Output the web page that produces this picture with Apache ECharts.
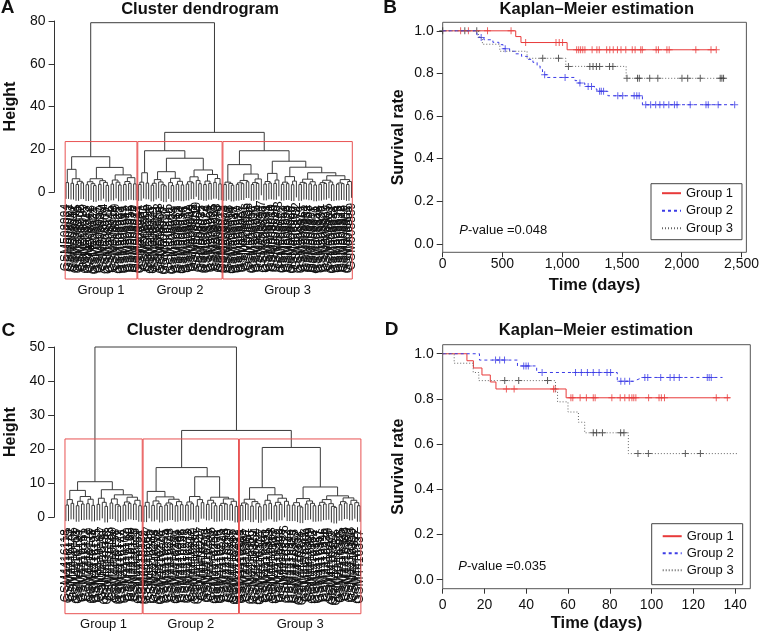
<!DOCTYPE html>
<html>
<head>
<meta charset="utf-8">
<script src="https://cdn.jsdelivr.net/npm/echarts@6/dist/echarts.min.js"></script>
<style>
  html, body { margin: 0; background: #fff; }
  #main { width: 762px; height: 636px; }
</style>
</head>
<body>
<div id="main"></div>
<script>
// ---- dendrogram data: [height, left, right], leaves are sample id suffixes
var groupNames = ['Group 1', 'Group 2', 'Group 3'];

var treeA = [79.2,
  [16.5,
    [10.6, [4.4, 994, 961], [6.2, [4.1, 937, 952], [5.0, [3.5, 948, 976], [4.3, 903, 989]]]],
    [11.5,
      [6.2, [4.8, [3.4, 915, 942], [3.9, 968, [3.0, 921, 904]]], [5.3, [3.6, 957, 930], [4.5, 984, [3.1, 909, 972]]]],
      [8.0, [5.6, [3.7, 946, 918], [4.6, 999, [3.3, 925, 963]]], [6.7, [4.9, [3.5, 939, 981], [4.0, 912, 955]], [3.8, 970, 927]]]]],
  [27.9,
    [19.3,
      [9.0, [4.6, [3.5, 934, 987], 911], [4.2, 966, 950]],
      [15.8,
        [9.5, [5.8, [4.1, [3.2, 923, 979], 941], [4.7, 958, [3.4, 906, [2.9, 990, 917]]]], [6.4, [4.4, 945, [3.0, 962, 928]], [5.0, [3.6, 983, 913], [3.3, 954, 936]]]],
        [10.3, [7.1, [4.8, [3.7, 971, 902], [4.3, 949, 988]], [5.4, 919, [3.9, 964, 935]]], [8.2, [5.1, [3.5, 977, 924], [4.0, 959, 908]], [6.3, [4.5, 985, 943], [3.8, 916, 973]]]]]],
    [19.3,
      [12.8,
        [4.6, [3.5, 931, 996], [4.0, 953, [3.2, 914, 980]]],
        [8.4, [5.4, [4.3, [3.6, 947, 920], [3.9, 967, 901]], [4.8, 986, 938]], [6.1, [4.4, [3.5, 960, 926], [4.0, 975, 944]], 907]]],
      [14.4,
        [8.7, [4.9, [3.7, 956, 933], [4.2, 991, 910]], [5.6, [4.0, 969, 940], 978]],
        [11.6,
          [7.2, [4.6, [3.6, 922, 951], [3.9, 993, 929]], [5.1, [3.4, 965, 905], 982]],
          [9.0,
            [6.0, [4.5, [3.5, 874, 819], [4.1, 861, 832]], [4.8, [3.8, 858, 897], [3.3, 811, 850]]],
            [7.6, [5.5, [4.4, [3.6, 843, 886], [4.0, 827, 869]], [4.7, 815, [3.4, 892, 838]]], [5.8, [4.2, [3.7, 854, 823], [3.9, 878, 846]], [4.9, [3.5, 801, 865], 889]]]]]]]]];

var treeC = [50.0,
  [10.45,
    [7.9, [5.2, [3.6, 118, 175], [4.1, 142, 106]], [6.1, [4.7, [3.4, 163, 129], [3.9, 187, 151]], [5.3, [4.0, 112, 170], [3.5, 138, 194]]]],
    [8.1, [5.6, [3.8, 125, 181], [4.4, 147, [3.2, 109, 166]]], [6.6, [5.4, [4.2, 133, 190], [3.7, 158, [3.3, 121, 177]]], [5.9, [4.5, [3.6, 144, 102], [4.1, 169, 136]], [5.0, [3.9, 185, 115], [3.4, 152, 127]]]]]],
  [25.5,
    [14.6,
      [7.6, [4.4, [3.3, 219, 264], 237], [6.0, [4.8, [3.5, 282, 208], [4.0, 251, [3.2, 273, 226]]], [5.3, [4.2, [3.6, 295, 214], [3.9, 248, 267]], [4.6, [3.4, 231, 289], [3.7, 203, 256]]]]],
      [11.9, [6.1, [4.5, [3.6, 241, 278], [4.0, 212, 260]], [5.2, [3.3, 285, 229], [4.3, 247, 271]]], [5.9, [5.0, [3.8, 216, 293], [4.2, 235, [3.4, 258, 204]]], [5.4, [4.1, [3.5, 276, 222], [3.9, 243, 299]], [4.7, [3.7, 210, 265], [3.2, 287, 233]]]]]],
    [20.5,
      [8.7, [5.3, [4.2, [3.5, 318, 362], [3.9, 341, 307]], [4.6, [3.3, 386, 329], [4.0, 354, [3.1, 312, 375]]]], [6.6, [5.0, [3.7, 347, 393], [4.1, 321, 368]], [5.6, [4.4, [3.4, 335, 381], [3.8, 303, 359]], [4.7, 326, [3.6, 372, 344]]]]],
      [8.9, [5.5, [4.3, [3.6, 389, 315], [3.3, 352, [3.0, 378, 331]]], [4.8, [3.9, 306, 364], [4.1, 339, [3.4, 383, 324]]]], [6.3, [5.2, [4.4, [3.5, 357, 311], [3.9, 396, 334]], [4.0, 370, [3.2, 349, [2.9, 317, 388]]]], [5.7, [4.6, [3.7, 328, 365], [4.2, 343, 309]], [5.0, [3.8, 380, 356], [4.3, 322, [3.4, 391, 337]]]]]]]]];

var groupSizesA = [29, 34, 52];
var groupSizesC = [30, 37, 47];
var prefixA = 'GSM508';
var prefixC = 'GSM4416';
var boxA = [-40.7, 23.6];   // bottom, top
var boxC = [-28.3, 23.0];
var ticksA = [0, 20, 40, 60, 80];
var ticksC = [0, 10, 20, 30, 40, 50];

// ---- Kaplan-Meier data: steps [time, survival after], censor times, last time
var b1Steps = [[611, 0.973], [655, 0.945], [1041, 0.911]];
var b1Cens = [150, 215, 375, 572, 694, 948, 975, 1003, 1121, 1138, 1154, 1172, 1190, 1250, 1290, 1310, 1372, 1398, 1427,
  1462, 1492, 1532, 1586, 1610, 1657, 1670, 1786, 1805, 1876, 1895, 2118, 2245, 2289];
var b1End = 2289;
var b2Steps = [[286, 0.981], [305, 0.969], [345, 0.958], [420, 0.946], [470, 0.935], [505, 0.916], [560, 0.904],
  [610, 0.892], [660, 0.880], [710, 0.866], [755, 0.852], [790, 0.835], [815, 0.818], [835, 0.806], [850, 0.794],
  [873, 0.781], [1107, 0.766], [1130, 0.755], [1189, 0.739], [1270, 0.727], [1290, 0.716], [1382, 0.695], [1671, 0.653]];
var b2Cens = [322, 523, 853, 1024, 1148, 1217, 1245, 1313, 1327, 1346, 1465, 1506, 1602, 1624, 1644, 1699, 1740, 1782,
  1817, 1850, 1892, 1939, 1961, 2071, 2203, 2222, 2305, 2443];
var b2End = 2443;
var b3Steps = [[300, 0.968], [332, 0.937], [478, 0.904], [706, 0.871], [1030, 0.833], [1535, 0.777]];
var b3Cens = [0, 185, 285, 837, 969, 1052, 1231, 1258, 1286, 1313, 1396, 1424, 1542, 1630, 1645, 1732, 1800, 2002, 2050,
  2155, 2322, 2336, 2350];
var b3End = 2355;

var d1Steps = [[11.6, 0.969], [14.7, 0.937], [18.8, 0.906], [22.8, 0.875], [25.5, 0.844], [59.1, 0.805]];
var d1Cens = [30.5, 34.2, 53.1, 53.9, 61.4, 62.3, 65.8, 68.8, 72.1, 73.0, 81.0, 85.0, 87.2, 89.3, 90.6, 91.5, 92.5,
  98.6, 103.6, 104.7, 106.2, 131.0, 136.3];
var d1End = 137.5;
var d2Steps = [[17.6, 0.972], [35.8, 0.946], [45.0, 0.917], [83.6, 0.878], [91.3, 0.878], [95.8, 0.895, 'ramp']];
var d2Cens = [25.3, 27.3, 29.6, 38.8, 39.9, 41.0, 47.6, 63.6, 66.4, 69.3, 72.1, 74.9, 78.7, 80.4, 85.3, 87.2, 89.5,
  96.8, 98.2, 104.4, 108.9, 110.8, 113.3, 126.7, 127.6, 128.6];
var d2End = 134;
var d3Steps = [[5.5, 0.958], [14.6, 0.917], [17.3, 0.881], [54.0, 0.834], [55.0, 0.787], [60.0, 0.742], [65.0, 0.697],
  [68.0, 0.650], [88.9, 0.558]];
var d3Cens = [29.7, 36.4, 50.2, 72.1, 73.7, 76.5, 85.2, 86.8, 93.5, 98.5, 116.2, 123.4];
var d3End = 141;

var ticksBx = [0, 500, 1000, 1500, 2000, 2500];
var ticksDx = [0, 20, 40, 60, 80, 100, 120, 140];
var ticksSurv = [0, 0.2, 0.4, 0.6, 0.8, 1.0];

var FONT = '"Liberation Sans", Arial, Helvetica, sans-serif';
var red = '#e83a3a', blue = '#3c3ce6', grey = '#666';
var plus = 'path://M3,0h1v7h-1zM0,3h7v1h-7z';

// build dendrogram segments like plot.hclust (node x = mean of children x)
function layoutTree(tree) {
  var hs = [];
  (function collect(n) { if (Array.isArray(n)) { hs.push(n[0]); collect(n[1]); collect(n[2]); } })(tree);
  var hang = 0.1 * (Math.max.apply(null, hs) - Math.min.apply(null, hs));
  var segs = [], leaves = [], pos = 0;
  function walk(node) {
    if (!Array.isArray(node)) { pos++; return { x: pos, h: null, id: node }; }
    var h = node[0], a = walk(node[1]), b = walk(node[2]);
    [a, b].forEach(function (c) {
      var bottom = c.h === null ? h - hang : c.h;
      if (c.h === null) leaves.push([c.x, bottom, c.id]);
      segs.push([c.x, bottom, c.x, h]);
    });
    segs.push([a.x, h, b.x, h]);
    return { x: (a.x + b.x) / 2, h: h };
  }
  walk(tree);
  return { segs: segs, leaves: leaves, n: pos };
}

function dendroSeries(gi, lay, sizes, prefix, box, labelGap) {
  var boxes = [], m = 0;
  sizes.forEach(function (n) { boxes.push([m + 0.66, m + n + 0.33, box[0], box[1]]); m += n; });
  return [{
    type: 'custom', xAxisIndex: gi, yAxisIndex: gi, clip: false, silent: true,
    data: lay.segs,
    renderItem: function (params, api) {
      var p1 = api.coord([api.value(0), api.value(1)]);
      var p2 = api.coord([api.value(2), api.value(3)]);
      return { type: 'line', shape: { x1: p1[0], y1: p1[1], x2: p2[0], y2: p2[1] },
        style: { stroke: '#3a3a3a', lineWidth: 1 } };
    }
  }, {
    type: 'custom', xAxisIndex: gi, yAxisIndex: gi, clip: false, silent: true,
    data: lay.leaves.map(function (l) { return [l[0], l[1]]; }),
    renderItem: function (params, api) {
      var p = api.coord([api.value(0), api.value(1)]);
      return { type: 'text', x: p[0], y: p[1] + labelGap, rotation: Math.PI / 2,
        style: { text: prefix + lay.leaves[params.dataIndex][2], fill: '#111', fontSize: 12, fontFamily: FONT,
          align: 'right', verticalAlign: 'middle' } };
    }
  }, {
    type: 'custom', xAxisIndex: gi, yAxisIndex: gi, clip: false, silent: true,
    data: boxes,
    renderItem: function (params, api) {
      var p1 = api.coord([api.value(0), api.value(3)]);
      var p2 = api.coord([api.value(1), api.value(2)]);
      return { type: 'group', children: [
        { type: 'rect', shape: { x: p1[0], y: p1[1], width: p2[0] - p1[0], height: p2[1] - p1[1] },
          style: { fill: 'none', stroke: '#e85252', lineWidth: 1 } },
        { type: 'text', x: (p1[0] + p2[0]) / 2, y: p2[1] + 11,
          style: { text: groupNames[params.dataIndex], fill: '#111', fontSize: 13, fontFamily: FONT,
            align: 'center', verticalAlign: 'middle' } }
      ] };
    }
  }];
}

function stepPath(steps, end) {
  var pts = [[0, 1]], s = 1;
  steps.forEach(function (st) {
    if (st[2] === 'ramp') pts.push([st[0], st[1]]);
    else { pts.push([st[0], s]); pts.push([st[0], st[1]]); }
    s = st[1];
  });
  pts.push([end, s]);
  return pts;
}
function survAt(steps, t) {
  var s = 1;
  steps.forEach(function (st) { if (st[0] <= t) s = st[1]; });
  return s;
}
function kmSeries(gi, name, steps, end, cens, color, markColor, type) {
  return [{
    type: 'line', name: name, xAxisIndex: gi, yAxisIndex: gi, data: stepPath(steps, end),
    symbol: 'none', silent: true, lineStyle: { color: color, width: 1, type: type }, itemStyle: { color: color }
  }, {
    type: 'scatter', xAxisIndex: gi, yAxisIndex: gi, silent: true, symbol: plus, symbolSize: 7,
    data: cens.map(function (t) { return [t, survAt(steps, t)]; }), itemStyle: { color: markColor }
  }];
}

function withComma(v) { return String(v).replace(/\B(?=(\d{3})+(?!\d))/g, ','); }

function dendroY(gi, max, ticks) {
  return { gridIndex: gi, type: 'value', min: 0, max: max, interval: ticks[1] - ticks[0],
    axisLine: { show: true, onZero: false, lineStyle: { color: '#333' } },
    axisTick: { show: true, length: 6, lineStyle: { color: '#333' } },
    axisLabel: { fontSize: 14, color: '#111', margin: 9, fontFamily: FONT },
    splitLine: { show: false },
    name: 'Height', nameLocation: 'middle', nameGap: 36,
    nameTextStyle: { fontSize: 16, fontWeight: 'bold', color: '#111', fontFamily: FONT } };
}
function dendroX(gi, n) {
  return { gridIndex: gi, type: 'value', show: false, min: 1 - 0.04 * (n - 1), max: n + 0.04 * (n - 1) };
}
function kmX(gi, max, ticks, margin, gap) {
  return { gridIndex: gi, type: 'value', min: 0, max: max,
    axisLine: { show: false, onZero: false },
    axisTick: { show: true, length: 5, customValues: ticks, lineStyle: { color: '#333' } },
    axisLabel: { customValues: ticks, fontSize: 14, color: '#111', margin: margin, fontFamily: FONT, formatter: withComma },
    splitLine: { show: false },
    name: 'Time (days)', nameLocation: 'middle', nameGap: gap,
    nameTextStyle: { fontSize: 16.5, fontWeight: 'bold', color: '#111', fontFamily: FONT } };
}
function kmY(gi) {
  return { gridIndex: gi, type: 'value', min: -0.04, max: 1.04,
    axisLine: { show: false, onZero: false },
    axisTick: { show: true, length: 6, customValues: ticksSurv, lineStyle: { color: '#333' } },
    axisLabel: { customValues: ticksSurv, fontSize: 14, color: '#111', margin: 9, fontFamily: FONT,
      formatter: function (v) { return v.toFixed(1); } },
    splitLine: { show: false },
    name: 'Survival rate', nameLocation: 'middle', nameGap: 36,
    nameTextStyle: { fontSize: 16, fontWeight: 'bold', color: '#111', fontFamily: FONT } };
}
function kmLegend(left, top, pad, gap) {
  return { left: left, top: top, orient: 'vertical', selectedMode: false, data: groupNames,
    padding: pad, itemGap: gap, itemWidth: 19, itemHeight: 12,
    borderColor: '#444', borderWidth: 1,
    itemStyle: { opacity: 0 },
    textStyle: { fontSize: 13, color: '#111', fontFamily: FONT, lineHeight: 13 } };
}
function label(x, y, text, size, weight) {
  return { type: 'text', x: x, y: y, silent: true,
    style: { text: text, fontSize: size, fontWeight: weight, fontFamily: FONT, fill: '#111',
      align: 'center', verticalAlign: 'middle' } };
}
function pValue(x, y, text) {
  return { type: 'text', x: x, y: y, silent: true,
    style: { text: '{i|P}-value =' + text, fontSize: 13, fontFamily: FONT, fill: '#111', verticalAlign: 'middle',
      rich: { i: { fontStyle: 'italic', fontSize: 13, fontFamily: FONT, fill: '#111' } } } };
}

var layA = layoutTree(treeA), layC = layoutTree(treeC);
var chart = echarts.init(document.getElementById('main'));

var series = []
  .concat(dendroSeries(0, layA, groupSizesA, prefixA, boxA, 5))
  .concat(dendroSeries(2, layC, groupSizesC, prefixC, boxC, 8))
  .concat(kmSeries(1, 'Group 1', b1Steps, b1End, b1Cens, red, red, 'solid'))
  .concat(kmSeries(1, 'Group 2', b2Steps, b2End, b2Cens, blue, blue, [3, 3]))
  .concat(kmSeries(1, 'Group 3', b3Steps, b3End, b3Cens, grey, '#333', [1, 2]))
  .concat(kmSeries(3, 'Group 1', d1Steps, d1End, d1Cens, red, red, 'solid'))
  .concat(kmSeries(3, 'Group 2', d2Steps, d2End, d2Cens, blue, blue, [3, 3]))
  .concat(kmSeries(3, 'Group 3', d3Steps, d3End, d3Cens, grey, '#333', [1, 2]));

chart.setOption({
  animation: false,
  backgroundColor: '#fff',
  textStyle: { fontFamily: FONT },
  grid: [
    { left: 54.6, top: 21, width: 308.3, height: 171 },
    { left: 442.7, top: 22.3, width: 307.6, height: 230, show: true, borderColor: '#555', borderWidth: 1 },
    { left: 54.1, top: 347, width: 317.7, height: 170.3 },
    { left: 442.7, top: 344.7, width: 307.6, height: 244, show: true, borderColor: '#555', borderWidth: 1 }
  ],
  xAxis: [dendroX(0, layA.n), kmX(1, 2541, ticksBx, 5, 25), dendroX(2, layC.n), kmX(3, 147.3, ticksDx, 9, 26)],
  yAxis: [dendroY(0, 80, ticksA), kmY(1), dendroY(2, 50, ticksC), kmY(3)],
  legend: [kmLegend(651, 183.7, [3, 9, 5, 10], 4.5), kmLegend(651.7, 523.7, [6, 9, 8, 10], 4)],
  graphic: [
    label(7.5, 8, 'A', 19, 'bold'),
    label(390, 7.5, 'B', 19, 'bold'),
    label(8.3, 330.5, 'C', 19, 'bold'),
    label(391.5, 330, 'D', 19, 'bold'),
    label(200, 9.5, 'Cluster dendrogram', 16.5, 'bold'),
    label(596.8, 9, 'Kaplan\u2013Meier estimation', 16.5, 'bold'),
    label(205.5, 330.5, 'Cluster dendrogram', 16.5, 'bold'),
    label(596, 330.5, 'Kaplan\u2013Meier estimation', 16.5, 'bold'),
    pValue(459.3, 230, '0.048'),
    pValue(458.3, 566.3, '0.035')
  ],
  series: series
});
</script>
</body>
</html>
